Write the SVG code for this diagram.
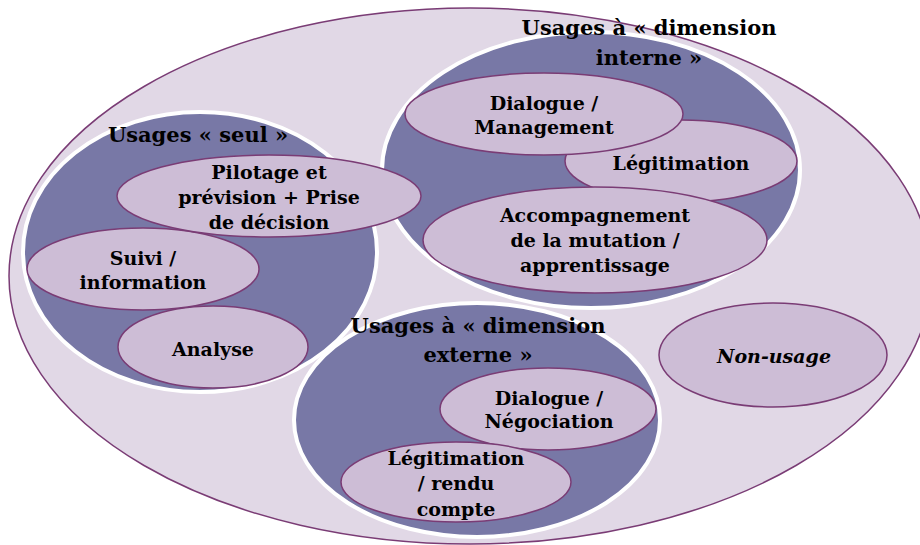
<svg xmlns="http://www.w3.org/2000/svg" width="920" height="545" viewBox="0 0 920 545">
<style>
.outer{fill:#e1d8e6;stroke:#7a3c75;stroke-width:1.5}
.group{fill:#7878a6;stroke:#ffffff;stroke-width:4}
.item{fill:#cdbdd6;stroke:#7a3c75;stroke-width:1.5}
text{font-family:"DejaVu Serif","Liberation Serif",serif;font-weight:bold;fill:#000;text-anchor:middle}
.t{font-size:19px}
.h{font-size:21px}
.i{font-style:italic}
</style>
<rect width="920" height="545" fill="#ffffff"/>
<g id="outer"><ellipse class="outer" cx="470" cy="276" rx="461" ry="268"/></g>
<g id="grp-seul"><ellipse class="group" cx="200" cy="252" rx="177" ry="140"/></g>
<g id="grp-interne"><ellipse class="group" cx="591" cy="170" rx="209" ry="138"/></g>
<g id="grp-externe"><ellipse class="group" cx="477" cy="420" rx="183" ry="117"/></g>
<g id="analyse"><ellipse class="item" cx="213" cy="347" rx="95" ry="41"/><text class="t" x="213" y="356">Analyse</text></g>
<g id="suivi"><ellipse class="item" cx="143" cy="269" rx="116" ry="41"/><text class="t" x="143" y="265">Suivi /</text><text class="t" x="143" y="289">information</text></g>
<g id="pilotage"><ellipse class="item" cx="269" cy="196" rx="152" ry="41"/><text class="t" x="269" y="179">Pilotage et</text><text class="t" x="269" y="204">prévision + Prise</text><text class="t" x="269" y="229">de décision</text></g>
<g id="legitimation-int"><ellipse class="item" cx="681" cy="161" rx="116" ry="41"/><text class="t" x="681" y="170">Légitimation</text></g>
<g id="dialogue-mgmt"><ellipse class="item" cx="544" cy="114" rx="139" ry="41"/><text class="t" x="544" y="110">Dialogue /</text><text class="t" x="544" y="134">Management</text></g>
<g id="accompagnement"><ellipse class="item" cx="595" cy="240" rx="172" ry="53"/><text class="t" x="595" y="222">Accompagnement</text><text class="t" x="595" y="247">de la mutation /</text><text class="t" x="595" y="272">apprentissage</text></g>
<g id="dialogue-nego"><ellipse class="item" cx="548" cy="409" rx="108" ry="41"/><text class="t" x="549" y="405">Dialogue /</text><text class="t" x="549" y="428">Négociation</text></g>
<g id="legitimation-ext"><ellipse class="item" cx="456" cy="482" rx="115" ry="40"/><text class="t" x="456" y="465">Légitimation</text><text class="t" x="456" y="490">/ rendu</text><text class="t" x="456" y="516">compte</text></g>
<g id="non-usage"><ellipse class="item" cx="773" cy="355" rx="114" ry="52"/><text class="t i" x="774" y="363">Non-usage</text></g>
<g id="labels">
<text class="h" x="198" y="142">Usages « seul »</text>
<text class="h" x="649" y="35">Usages à « dimension</text>
<text class="h" x="649" y="65">interne »</text>
<text class="h" x="478" y="333">Usages à « dimension</text>
<text class="h" x="478" y="362">externe »</text>
</g>
<g id="connectors"></g>
</svg>
